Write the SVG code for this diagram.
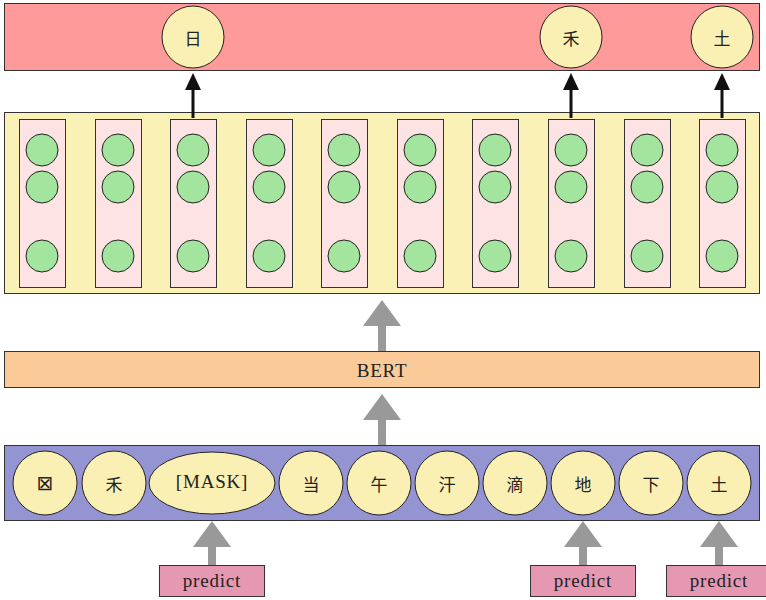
<svg xmlns="http://www.w3.org/2000/svg" width="766" height="600" viewBox="0 0 766 600">
<defs>
<style>
.bar{stroke:#333;stroke-width:1}
.tok{fill:#faf0b4;stroke:#222;stroke-width:1}
.col{fill:#fde3e3;stroke:#333;stroke-width:1}
.g{fill:#a3e59e;stroke:#222;stroke-width:1}
.zh{font-family:"Noto Sans CJK SC","Noto Sans",sans-serif;font-size:17px;fill:#222;text-anchor:middle;dominant-baseline:central}
.box{font-family:"DejaVu Sans","Noto Sans CJK SC",sans-serif;font-size:20px;fill:#222;text-anchor:middle;dominant-baseline:central}
.en{font-family:"Liberation Serif","DejaVu Serif",serif;font-size:19px;letter-spacing:0.8px;fill:#222;text-anchor:middle;dominant-baseline:central}
.pred{fill:#e697b2;stroke:#333;stroke-width:1}
.blk{stroke:#111;stroke-width:3;fill:none}
.head{fill:#111}
.gray{fill:#999}
</style>
</defs>

<g id="output">
<rect class="bar" x="4.5" y="3.5" width="755" height="67" fill="#fe9a9a"/>
<g id="out-ri"><circle class="tok" cx="193" cy="37" r="31"/><text class="zh" x="193" y="37">日</text></g>
<g id="out-he"><circle class="tok" cx="571" cy="37" r="31"/><text class="zh" x="571" y="37">禾</text></g>
<g id="out-tu"><circle class="tok" cx="722" cy="37" r="31"/><text class="zh" x="722" y="37">土</text></g>
</g>

<g id="hidden">
<rect class="bar" x="4.5" y="112.5" width="755" height="181" fill="#faf1b6"/>
<g id="h1"><rect class="col" x="19.5" y="119.5" width="46" height="168"/><circle class="g" cx="42" cy="150" r="16"/><circle class="g" cx="42" cy="187" r="16"/><circle class="g" cx="42" cy="256" r="16"/></g>
<g id="h2"><rect class="col" x="95.5" y="119.5" width="46" height="168"/><circle class="g" cx="118" cy="150" r="16"/><circle class="g" cx="118" cy="187" r="16"/><circle class="g" cx="118" cy="256" r="16"/></g>
<g id="h3"><rect class="col" x="170.5" y="119.5" width="46" height="168"/><circle class="g" cx="193" cy="150" r="16"/><circle class="g" cx="193" cy="187" r="16"/><circle class="g" cx="193" cy="256" r="16"/></g>
<g id="h4"><rect class="col" x="246.5" y="119.5" width="46" height="168"/><circle class="g" cx="269" cy="150" r="16"/><circle class="g" cx="269" cy="187" r="16"/><circle class="g" cx="269" cy="256" r="16"/></g>
<g id="h5"><rect class="col" x="321.5" y="119.5" width="46" height="168"/><circle class="g" cx="344" cy="150" r="16"/><circle class="g" cx="344" cy="187" r="16"/><circle class="g" cx="344" cy="256" r="16"/></g>
<g id="h6"><rect class="col" x="397.5" y="119.5" width="46" height="168"/><circle class="g" cx="420" cy="150" r="16"/><circle class="g" cx="420" cy="187" r="16"/><circle class="g" cx="420" cy="256" r="16"/></g>
<g id="h7"><rect class="col" x="472.5" y="119.5" width="46" height="168"/><circle class="g" cx="495" cy="150" r="16"/><circle class="g" cx="495" cy="187" r="16"/><circle class="g" cx="495" cy="256" r="16"/></g>
<g id="h8"><rect class="col" x="548.5" y="119.5" width="46" height="168"/><circle class="g" cx="571" cy="150" r="16"/><circle class="g" cx="571" cy="187" r="16"/><circle class="g" cx="571" cy="256" r="16"/></g>
<g id="h9"><rect class="col" x="624.5" y="119.5" width="46" height="168"/><circle class="g" cx="647" cy="150" r="16"/><circle class="g" cx="647" cy="187" r="16"/><circle class="g" cx="647" cy="256" r="16"/></g>
<g id="h10"><rect class="col" x="699.5" y="119.5" width="46" height="168"/><circle class="g" cx="722" cy="150" r="16"/><circle class="g" cx="722" cy="187" r="16"/><circle class="g" cx="722" cy="256" r="16"/></g>
</g>

<g id="bert">
<rect class="bar" x="4.5" y="351.5" width="755" height="36" fill="#fbca99"/>
<text class="en" x="382" y="370">BERT</text>
</g>

<g id="input">
<rect class="bar" x="4.5" y="445.5" width="755" height="75" fill="#9494d3"/>
<g id="t1"><circle class="tok" cx="45" cy="483" r="32"/><text class="box" x="45" y="483">⊠</text></g>
<g id="t2"><circle class="tok" cx="114" cy="483" r="32"/><text class="zh" x="114" y="483">禾</text></g>
<g id="t3"><ellipse class="tok" cx="212" cy="483" rx="63" ry="31"/><text class="en" x="212" y="481">[MASK]</text></g>
<g id="t4"><circle class="tok" cx="311" cy="483" r="32"/><text class="zh" x="311" y="483">当</text></g>
<g id="t5"><circle class="tok" cx="379" cy="483" r="32"/><text class="zh" x="379" y="483">午</text></g>
<g id="t6"><circle class="tok" cx="447" cy="483" r="32"/><text class="zh" x="447" y="483">汗</text></g>
<g id="t7"><circle class="tok" cx="515" cy="483" r="32"/><text class="zh" x="515" y="483">滴</text></g>
<g id="t8"><circle class="tok" cx="583" cy="483" r="32"/><text class="zh" x="583" y="483">地</text></g>
<g id="t9"><circle class="tok" cx="651" cy="483" r="32"/><text class="zh" x="651" y="483">下</text></g>
<g id="t10"><circle class="tok" cx="719" cy="483" r="32"/><text class="zh" x="719" y="483">土</text></g>
</g>

<g id="predict1"><rect class="pred" x="159.5" y="565.5" width="105" height="31"/><text class="en" x="212" y="580">predict</text></g>
<g id="predict2"><rect class="pred" x="530.5" y="565.5" width="105" height="31"/><text class="en" x="583" y="580">predict</text></g>
<g id="predict3"><rect class="pred" x="666.5" y="565.5" width="105" height="31"/><text class="en" x="719" y="580">predict</text></g>

<g id="connectors">
<line class="blk" x1="193" y1="118" x2="193" y2="88"/>
<path class="head" d="M193,73 L201,90 L185,90 z"/>
<line class="blk" x1="571" y1="118" x2="571" y2="88"/>
<path class="head" d="M571,73 L579,90 L563,90 z"/>
<line class="blk" x1="722" y1="118" x2="722" y2="88"/>
<path class="head" d="M722,73 L730,90 L714,90 z"/>
<path class="gray" d="M378,351 L378,326 L363,326 L382,300 L401,326 L386,326 L386,351 z"/>
<path class="gray" d="M378,445 L378,420 L363,420 L382,394 L401,420 L386,420 L386,445 z"/>
<path class="gray" d="M208,565 L208,547 L193,547 L212,521 L231,547 L216,547 L216,565 z"/>
<path class="gray" d="M579,565 L579,547 L564,547 L583,521 L602,547 L587,547 L587,565 z"/>
<path class="gray" d="M715,565 L715,547 L700,547 L719,521 L738,547 L723,547 L723,565 z"/>
</g>
</svg>
